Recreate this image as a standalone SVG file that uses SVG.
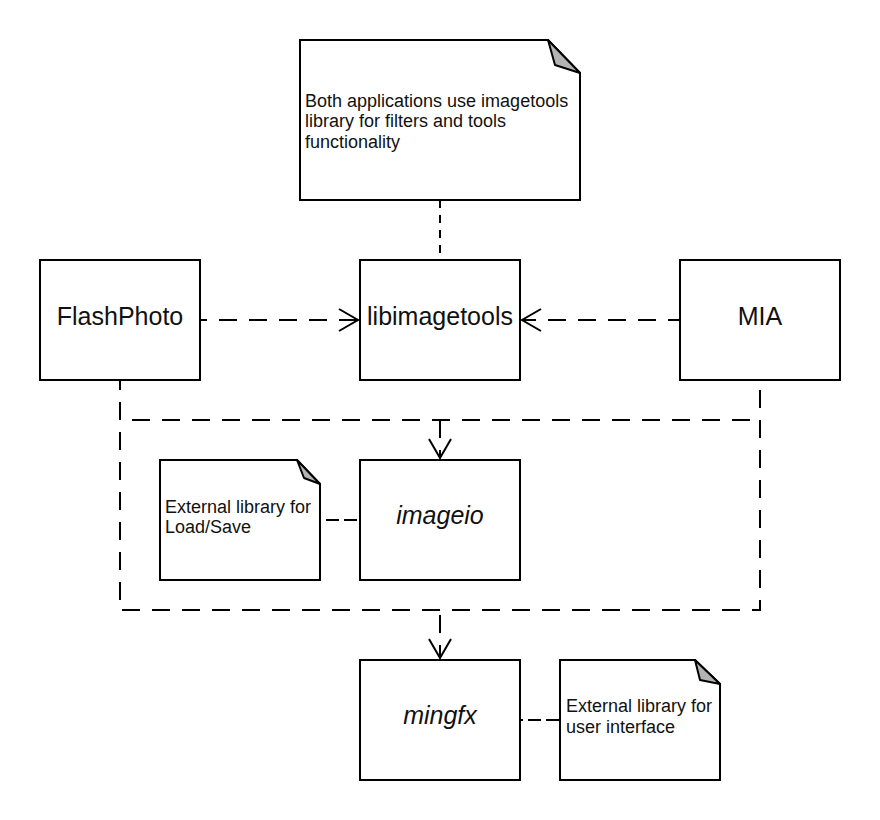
<svg xmlns="http://www.w3.org/2000/svg" width="880" height="820" viewBox="0 0 880 820">
  <style>
    .box { fill: #ffffff; stroke: #000000; stroke-width: 2; }
    .fold { fill: #b3b3b3; stroke: #000000; stroke-width: 2; stroke-linejoin: round; }
    .lbl { font-family: "Liberation Sans", Arial, sans-serif; font-size: 25px; fill: #111111; text-anchor: middle; }
    .it { font-style: italic; }
    .note { font-family: "Liberation Sans", Arial, sans-serif; font-size: 18px; fill: #111111; }
    .dep { fill: none; stroke: #000000; stroke-width: 2; stroke-dasharray: 18 12; }
    .anc { fill: none; stroke: #000000; stroke-width: 2; stroke-dasharray: 8 7; }
    .anch { fill: none; stroke: #000000; stroke-width: 2; stroke-dasharray: 13 5; }
    .head { fill: none; stroke: #000000; stroke-width: 2; }
  </style>
  <rect width="880" height="820" fill="#ffffff"/>

  <g id="connectors">
    <!-- note anchors -->
    <path class="anc" d="M440,200 V260"/>
    <path class="anch" d="M360,520 H320" stroke-dashoffset="-3"/>
    <path class="anch" d="M520,720 H560" stroke-dashoffset="10"/>
    <!-- FlashPhoto -> libimagetools -->
    <path class="dep" d="M200,320 H358" stroke-dashoffset="11"/>
    <path class="head" d="M339,309 L358,320 L339,331"/>
    <!-- MIA -> libimagetools -->
    <path class="dep" d="M680,320 H522" stroke-dashoffset="6"/>
    <path class="head" d="M541,309 L522,320 L541,331"/>
    <!-- FlashPhoto / MIA -> imageio and mingfx (shared routing) -->
    <path class="dep" d="M120,380 V610 H760 V380" stroke-dashoffset="8"/>
    <path class="dep" d="M120,420 H760" stroke-dashoffset="-12"/>
    <path class="dep" d="M440,420 V458" stroke-dashoffset="0"/>
    <path class="head" d="M429,439 L440,458 L451,439"/>
    <path class="dep" d="M440,610 V658" stroke-dashoffset="-5"/>
    <path class="head" d="M429,639 L440,658 L451,639"/>
  </g>

  <g id="note-top">
    <path class="box" d="M300,40 H548 L580,73 V200 H300 Z"/>
    <path class="fold" d="M548,40 L555,65 L580,73 Z"/>
    <text class="note" x="305" y="107">Both applications use imagetools</text>
    <text class="note" x="305" y="127">library for filters and tools</text>
    <text class="note" x="305" y="148">functionality</text>
  </g>

  <g id="flashphoto">
    <rect class="box" x="40" y="260" width="160" height="120"/>
    <text class="lbl" x="120" y="325">FlashPhoto</text>
  </g>

  <g id="libimagetools">
    <rect class="box" x="360" y="260" width="160" height="120"/>
    <text class="lbl" x="440" y="325">libimagetools</text>
  </g>

  <g id="mia">
    <rect class="box" x="680" y="260" width="160" height="120"/>
    <text class="lbl" x="760" y="325">MIA</text>
  </g>

  <g id="note-loadsave">
    <path class="box" d="M160,460 H297 L320,484 V580 H160 Z"/>
    <path class="fold" d="M297,460 L304,478 L320,484 Z"/>
    <text class="note" x="165" y="513">External library for</text>
    <text class="note" x="165" y="533">Load/Save</text>
  </g>

  <g id="imageio">
    <rect class="box" x="360" y="460" width="160" height="120"/>
    <text class="lbl it" x="440" y="524">imageio</text>
  </g>

  <g id="mingfx">
    <rect class="box" x="360" y="660" width="160" height="120"/>
    <text class="lbl it" x="440" y="724">mingfx</text>
  </g>

  <g id="note-ui">
    <path class="box" d="M560,660 H695 L720,684 V780 H560 Z"/>
    <path class="fold" d="M695,660 L700,680 L720,684 Z"/>
    <text class="note" x="566" y="712">External library for</text>
    <text class="note" x="566" y="733">user interface</text>
  </g>
</svg>
